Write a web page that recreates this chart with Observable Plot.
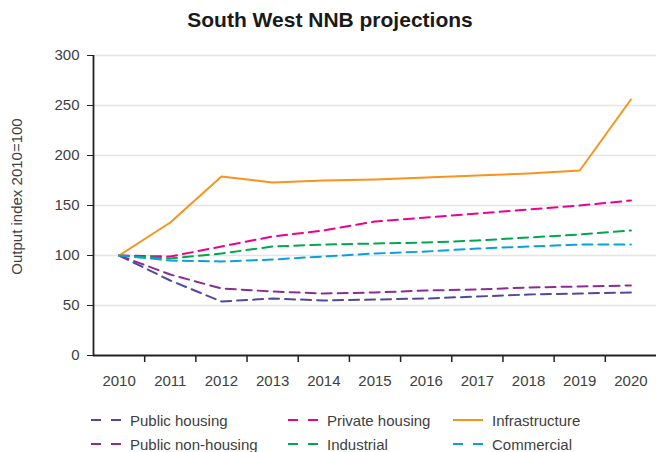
<!DOCTYPE html>
<html>
<head>
<meta charset="utf-8">
<script src="https://cdn.jsdelivr.net/npm/d3@7"></script>
<script src="https://cdn.jsdelivr.net/npm/@observablehq/plot@0.6"></script>
<style>
  html, body { margin: 0; padding: 0; background: #fff; }
  body { width: 656px; height: 452px; position: relative; overflow: hidden; font-family: "Liberation Sans", Arial, sans-serif; }
  #title { position: absolute; top: 8px; left: 0; width: 660px; text-align: center; font-weight: bold; font-size: 21px; color: #1a1a1a; }
  #chart { position: absolute; top: 40px; left: 0; }
  .leg { position: absolute; font-size: 15px; color: #404040; display: flex; align-items: center; white-space: nowrap; }
  .leg svg { margin-right: 9px; }
</style>
</head>
<body>
<div id="title">South West NNB projections</div>
<div id="chart"></div>
<div id="legend"></div>
<script>
const years = [2010, 2011, 2012, 2013, 2014, 2015, 2016, 2017, 2018, 2019, 2020];
const publicHousing    = [100, 75, 54, 57, 55, 56, 57, 59, 61, 62, 63];
const publicNonHousing = [100, 81, 67, 64, 62, 63, 65, 66, 68, 69, 70];
const privateHousing   = [100, 99, 109, 119, 125, 134, 138, 142, 146, 150, 155];
const industrial       = [100, 97, 102, 109, 111, 112, 113, 115, 118, 121, 125];
const infrastructure   = [100, 133, 179, 173, 175, 176, 178, 180, 182, 185, 256];
const commercial       = [100, 95, 94, 96, 99, 102, 104, 107, 109, 111, 111];

const seriesNames = ["Public housing", "Public non-housing", "Private housing", "Industrial", "Infrastructure", "Commercial"];
const seriesValues = [publicHousing, publicNonHousing, privateHousing, industrial, infrastructure, commercial];
const seriesColors = ["#5048a0", "#8c2d8f", "#ec008c", "#00a651", "#f7941d", "#0a9fe2"];
const seriesDashed = [true, true, true, true, false, true];
const yTicks = [0, 50, 100, 150, 200, 250, 300];
const yLabel = "Output index 2010=100";

const data = seriesNames.flatMap((name, i) => years.map((year, j) => ({name, year, value: seriesValues[i][j]})));
const tickPositions = years.slice(0, -1).map(y => y + 0.5);

const lineMarks = seriesNames.map((name, i) =>
  Plot.lineY(data.filter(d => d.name === name), {
    x: "year", y: "value",
    stroke: seriesColors[i], strokeWidth: 2,
    strokeDasharray: seriesDashed[i] ? "10,6" : null
  })
);

const chart = Plot.plot({
  width: 656,
  height: 360,
  marginLeft: 93,
  marginRight: 0,
  marginTop: 15,
  marginBottom: 45,
  style: {fontFamily: "'Liberation Sans', Arial, sans-serif", fontSize: "15px", color: "#404040", background: "transparent"},
  x: {type: "linear", domain: [years[0] - 0.5, years[years.length - 1] + 0.5], label: null},
  y: {domain: [0, 300], label: null},
  marks: [
    Plot.gridY(yTicks.filter(t => t > 0), {stroke: "#e4e4e4", strokeOpacity: 1, strokeWidth: 1.5}),
    Plot.axisY(yTicks, {tickSize: 6, tickPadding: 8, fontSize: 15, fill: "#404040", stroke: "#222", label: null}),
    Plot.axisX(years, {tickSize: 0, tickPadding: 20, tickFormat: d => String(d), fontSize: 15, fill: "#404040", label: null}),
    Plot.axisX(tickPositions, {tickSize: 7, tickFormat: () => "", stroke: "#222", strokeWidth: 1.5, label: null}),
    Plot.text([yLabel], {frameAnchor: "left", textAnchor: "middle", dx: -76, dy: -9, rotate: -90, fontSize: 15, fill: "#404040"}),
    ...lineMarks,
    Plot.ruleY([0], {stroke: "#222", strokeWidth: 1.8}),
    Plot.ruleX([years[0] - 0.5], {stroke: "#222", strokeWidth: 1.8})
  ]
});
document.getElementById("chart").appendChild(chart);

// Legend
const legendOrder = [0, 2, 4, 1, 3, 5];
const colX = [91, 288, 453];
const rowY = [420, 444];
const legend = document.getElementById("legend");
legendOrder.forEach((si, k) => {
  const col = k % 3, row = Math.floor(k / 3);
  const div = document.createElement("div");
  div.className = "leg";
  div.style.left = colX[col] + "px";
  div.style.top = (rowY[row] - 10) + "px";
  const dash = seriesDashed[si] ? 'stroke-dasharray="10,10"' : "";
  div.innerHTML = `<svg width="30" height="20"><line x1="0" y1="10" x2="30" y2="10" stroke="${seriesColors[si]}" stroke-width="2" ${dash}/></svg><span>${seriesNames[si]}</span>`;
  legend.appendChild(div);
});
</script>
</body>
</html>
